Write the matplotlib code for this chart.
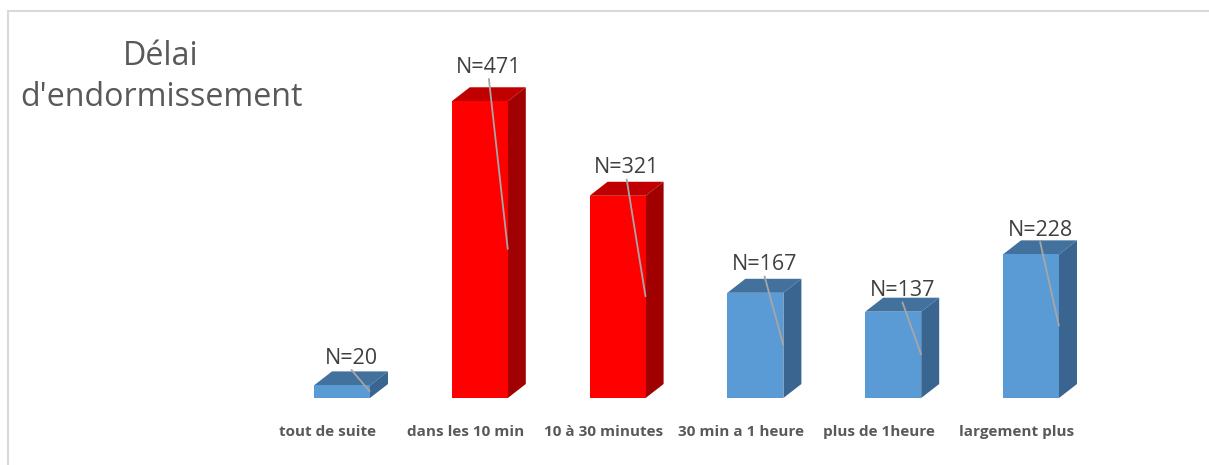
import matplotlib
matplotlib.use("Agg")
import matplotlib.pyplot as plt
from matplotlib.patches import Rectangle, Polygon

categories = ["tout de suite", "dans les 10 min", "10 à 30 minutes",
              "30 min a 1 heure", "plus de 1heure", "largement plus"]
values = [20, 471, 321, 167, 137, 228]
labels = ["N=20", "N=471", "N=321", "N=167", "N=137", "N=228"]
highlight = [False, True, True, False, False, False]
title = "Délai\nd'endormissement"

W, H = 1209, 465
fig = plt.figure(figsize=(W / 100, H / 100), dpi=100)
ax = fig.add_axes([0, 0, 1, 1])
ax.set_axis_off()

# pixel layout
x0_px, step_px = 342.0, 137.8
base_px, vscale = 67.0, 0.63
ax.set_xlim(-x0_px / step_px, (W - x0_px) / step_px)
ax.set_ylim(-base_px / vscale, (H - base_px) / vscale)

bw = 56 / step_px
ddx = 18 / step_px
ddy = 14 / vscale
lab_gap_px = [13, 20, 14, 14, 7, 10]

cols = {False: ("#5B9BD5", "#41719C", "#3A6590"),
        True: ("#FF0000", "#C00000", "#A00000")}

for i, (v, hl) in enumerate(zip(values, highlight)):
    front, top, side = cols[hl]
    l, r = i - bw / 2, i + bw / 2
    ax.add_patch(Polygon([(l, v), (r, v), (r + ddx, v + ddy), (l + ddx, v + ddy)],
                         closed=True, facecolor=top, edgecolor="none"))
    ax.add_patch(Polygon([(r, 0), (r + ddx, ddy), (r + ddx, v + ddy), (r, v)],
                         closed=True, facecolor=side, edgecolor="none"))
    ax.add_patch(Rectangle((l, 0), bw, v, facecolor=front, edgecolor="none"))
    # data label
    ly = v + ddy + lab_gap_px[i] / vscale
    lx = i + ddx / 2
    ax.text(lx, ly, labels[i], ha="center", va="center", fontsize=15.5,
            color="#404040", family="Open Sans")
    ax.plot([lx, r], [ly - 11 / vscale, v / 2], color="#A6A6A6", lw=1.3,
            solid_capstyle="butt")
    # category label
    ax.text(i - 14 / step_px, -34 / vscale, categories[i], ha="center", va="center",
            fontsize=11, fontweight="bold", color="#595959", family="Open Sans")

fig.text(161 / W, 1 - 77 / H, title, ha="center", va="center", fontsize=23.2,
         color="#595959", family="Open Sans", linespacing=1.3)

# chart frame
fig.patches.append(Rectangle((7.5 / W, -0.1), 1.2, 1 - 11.5 / H + 0.1,
                             transform=fig.transFigure, fill=False,
                             edgecolor="#D9D9D9", lw=1.5))

fig.savefig("out.png", dpi=100)
